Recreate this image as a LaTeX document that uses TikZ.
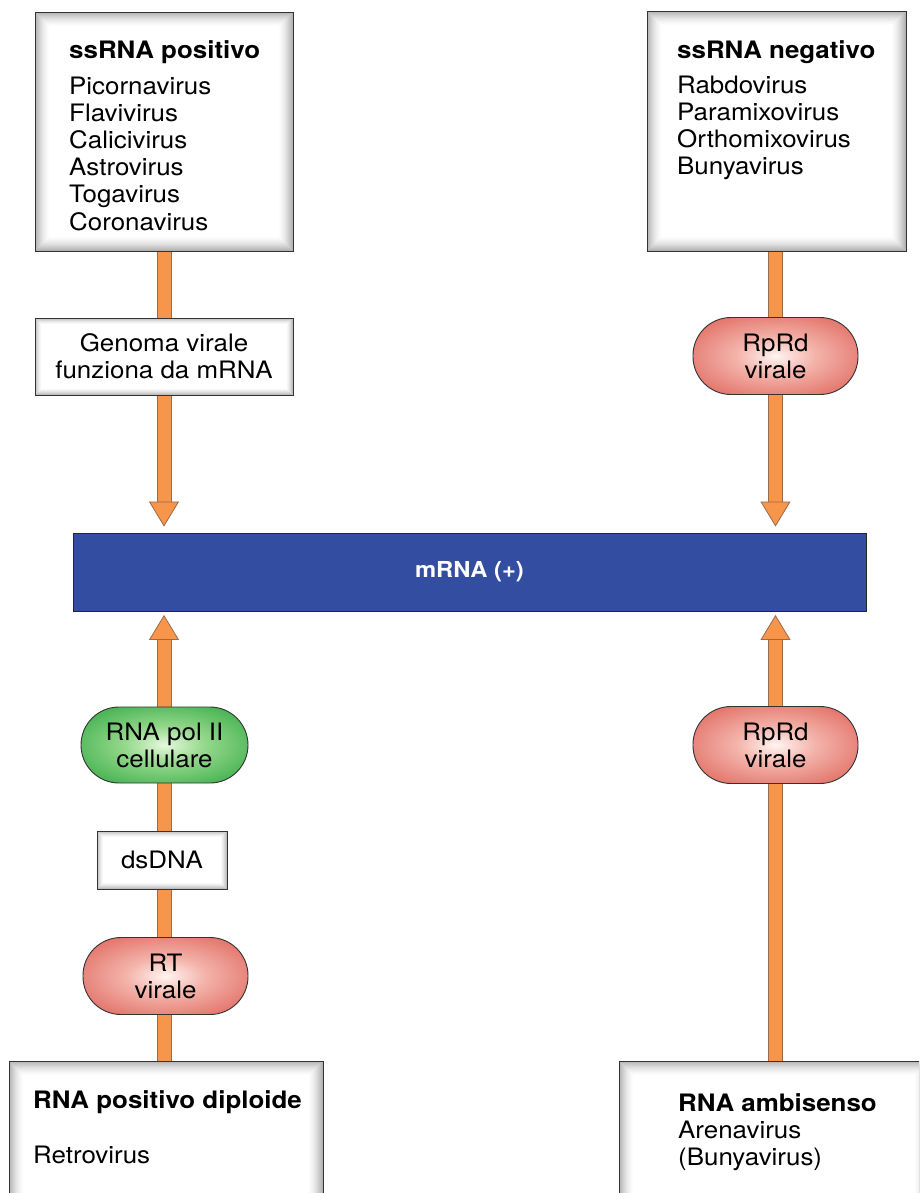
\documentclass[tikz,border=0pt]{standalone}
\usepackage{fontspec}
\setmainfont{TeX Gyre Heros}[FakeStretch=1.08]
\usetikzlibrary{arrows.meta,backgrounds,calc}
\definecolor{arrorange}{HTML}{F7954A}
\definecolor{orangeline}{HTML}{9A6A4A}
\definecolor{mrnablue}{HTML}{334DA0}
\definecolor{pillred}{HTML}{E0685E}
\definecolor{pillredmid}{HTML}{F3B3AA}
\definecolor{pillredlight}{HTML}{FFF4F1}
\definecolor{pillgreen}{HTML}{38AC48}
\definecolor{pillgreenmid}{HTML}{95D88C}
\definecolor{pillgreenlight}{HTML}{E6F8DE}
\pgfdeclareradialshading{redpillshade}{\pgfpoint{0bp}{0bp}}{color(0bp)=(pillredlight); color(12bp)=(pillredmid); color(30bp)=(pillred!85!pillredmid); color(46bp)=(pillred); color(80bp)=(pillred)}
\pgfdeclareradialshading{greenpillshade}{\pgfpoint{0bp}{0bp}}{color(0bp)=(pillgreenlight); color(12bp)=(pillgreenmid); color(30bp)=(pillgreen!85!pillgreenmid); color(46bp)=(pillgreen); color(80bp)=(pillgreen)}
\newcommand\bigtxt{\fontsize{24}{27}\selectfont}
\tikzset{
  framebox/.style={draw=black!80, line width=0.9pt, fill=white, path picture={
      \foreach \i/\c in {0/30,1/27,2/24,3/21,4/18,5/15.5,6/13,7/10.5,8/8.5,9/6.5,10/5,11/3.5,12/2.2,13/1}{
        \fill[black!\c] ([xshift=\i pt,yshift=\i pt]path picture bounding box.south west)
          rectangle ([xshift=-\i pt,yshift=-\i pt]path picture bounding box.north east);}
      \fill[white] ([xshift=14pt,yshift=14pt]path picture bounding box.south west)
          rectangle ([xshift=-14pt,yshift=-14pt]path picture bounding box.north east);
  }},
  smallframe/.style={draw=black!80, line width=0.9pt, fill=white, font=\bigtxt, align=center, path picture={
      \foreach \i/\c in {0/26,1/20,2/15,3/10,4/6,5/3}{
        \fill[black!\c] ([xshift=\i pt,yshift=\i pt]path picture bounding box.south west)
          rectangle ([xshift=-\i pt,yshift=-\i pt]path picture bounding box.north east);}
      \fill[white] ([xshift=6pt,yshift=6pt]path picture bounding box.south west)
          rectangle ([xshift=-6pt,yshift=-6pt]path picture bounding box.north east);
  }},
  pill/.style={rectangle, rounded corners=38pt, draw=black!80, line width=0.9pt,
    minimum width=165pt, minimum height=77pt, inner sep=0pt, align=center, font=\bigtxt},
  redpill/.style={pill, shading=redpillshade},
  greenpill/.style={pill, shading=greenpillshade},
  lbl/.style={inner sep=0pt, anchor=base west, font=\bigtxt},
  ttl/.style={inner sep=0pt, anchor=base west, font=\bigtxt\bfseries},
  shaftout/.style={line width=15pt, draw=orangeline},
  shaftin/.style={line width=13pt, draw=arrorange,
    -{Triangle[width=30pt,length=25pt,line width=0.8pt,color=orangeline,fill=arrorange]}},
}
\begin{document}
\begin{tikzpicture}[x=1pt,y=-1pt]
\path[use as bounding box, clip] (0,0) rectangle (919,1193);
\begin{pgfonlayer}{background}
\fill[white] (0,0) rectangle (919,1193);
\end{pgfonlayer}

% top boxes
\node[framebox, minimum width=258pt, minimum height=239pt] (tl) at (164,131.5) {};
\node[framebox, minimum width=259pt, minimum height=240pt] (tr) at (776.5,131) {};
\node[ttl] (tlt) at (69,59) {ssRNA positivo};
\foreach \t [count=\i] in {Picornavirus,Flavivirus,Calicivirus,Astrovirus,Togavirus,Coronavirus}
  \node[lbl] (tl\i) at (69,{95+27*(\i-1)}) {\t};
\node[ttl] (trt) at (677,59) {ssRNA negativo};
\foreach \t [count=\i] in {Rabdovirus,Paramixovirus,Orthomixovirus,Bunyavirus}
  \node[lbl] (tr\i) at (677,{94+27*(\i-1)}) {\t};

% intermediate nodes
\node[smallframe, minimum width=258pt, minimum height=77pt] (gen) at (164,356.5) {Genoma virale\\funziona da mRNA};
\node[redpill] (rp1) at (775.5,356) {RpRd\\virale};

% mRNA
\node[draw=black!85, line width=0.9pt, fill=mrnablue, minimum width=793pt, minimum height=78pt,
  text=white, font=\fontsize{22}{26}\selectfont\bfseries] (mrna) at (469.5,572) {mRNA (+)};

% lower nodes
\node[greenpill, minimum width=167pt, minimum height=76pt] (pol) at (164.5,745) {RNA pol II\\cellulare};
\node[smallframe, minimum width=130pt, minimum height=58pt] (ds) at (162,860) {dsDNA};
\node[redpill] (rt) at (165.5,976) {RT\\virale};
\node[redpill] (rp2) at (775.5,745) {RpRd\\virale};

% bottom boxes
\node[framebox, minimum width=314pt, minimum height=160pt] (bl) at (166,1141) {};
\node[framebox, minimum width=310pt, minimum height=160pt] (br) at (774,1141) {};
\node[ttl] (blt) at (33,1108) {RNA positivo diploide};
\node[lbl] (bl1) at (33,1163) {Retrovirus};
\node[ttl] (brt) at (678,1111) {RNA ambisenso};
\node[lbl] (br1) at (678,1138) {Arenavirus};
\node[lbl] (br2) at (678,1165) {(Bunyavirus)};

% arrows
\begin{pgfonlayer}{background}
\draw[shaftout, shorten >=30.5pt] (tl.south) -- (tl.south |- mrna.north);
\draw[shaftin, shorten >=6pt] (tl.south) -- (tl.south |- mrna.north);
\draw[shaftout, shorten >=30.5pt] (rp1.south |- tr.south) -- (rp1.south |- mrna.north);
\draw[shaftin, shorten >=6pt] (rp1.south |- tr.south) -- (rp1.south |- mrna.north);
\draw[shaftout, shorten >=28pt] (tl.south |- bl.north) -- (tl.south |- mrna.south);
\draw[shaftin, shorten >=3.5pt] (tl.south |- bl.north) -- (tl.south |- mrna.south);
\draw[shaftout, shorten >=28pt] (rp2.north |- br.north) -- (rp2.north |- mrna.south);
\draw[shaftin, shorten >=3.5pt] (rp2.north |- br.north) -- (rp2.north |- mrna.south);
\end{pgfonlayer}
\end{tikzpicture}
\end{document}
